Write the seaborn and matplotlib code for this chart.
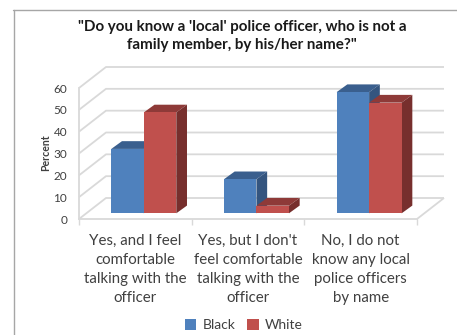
import matplotlib
matplotlib.use("Agg")
import matplotlib.pyplot as plt
from matplotlib.patches import Polygon
from matplotlib.lines import Line2D
import pandas as pd
import seaborn as sns

# Survey responses, in percent
categories = [
    "Yes, and I feel\ncomfortable\ntalking with the\nofficer",
    "Yes, but I don't\nfeel comfortable\ntalking with the\nofficer",
    "No, I do not\nknow any local\npolice officers\nby name",
]
black_values = [29.5, 15.6, 55.5]
white_values = [46.2, 3.5, 50.7]
group_names = ["Black", "White"]
y_ticks = [0, 10, 20, 30, 40, 50, 60]
title_text = "\"Do you know a 'local' police officer, who is not a\nfamily member, by his/her name?\""

W, H = 457, 335
BLUE, RED = "#4F81BD", "#C0504D"
SHADES = {BLUE: ("#3A5F8E", "#34557F"), RED: ("#8E3A38", "#772F2D")}
GRID = "#D9D9D9"
TEXT = "#404040"

sns.set_theme(style="white")
plt.rcParams["font.family"] = ["Lato", "DejaVu Sans"]

fig = plt.figure(figsize=(W / 100, H / 100), dpi=100, facecolor="white")
# front plane of the plot box, in pixels: x 79..417, y 219 (zero) .. 88 (sixty)
ax = fig.add_axes([79 / W, 1 - 219 / H, (417 - 79) / W, (219 - 88) / H])

df = pd.DataFrame({
    "category": categories * 2,
    "group": [group_names[0]] * 3 + [group_names[1]] * 3,
    "percent": black_values + white_values,
})
sns.barplot(
    data=df, x="category", y="percent", hue="group", hue_order=group_names,
    palette=[BLUE, RED], width=0.577, gap=0, saturation=1, ax=ax, legend=False,
    linewidth=0, zorder=5,
)
ax.set_xlim(-0.5, 2.5)
ax.set_ylim(0, 60)
ax.set_xlabel("")

# oblique depth of the floor and of each column, in data units
FLOOR_DX, FLOOR_DY = 27 / 112.7, 21 / (131 / 60)
SHIFT_X, SHIFT_Y = 0.075, 2.6
BAR_DX, BAR_DY = 0.095, 3.55

# back wall and side wall gridlines
line_style = dict(color=GRID, lw=1.3, clip_on=False, zorder=1, solid_capstyle="butt")
for v in y_ticks:
    ax.plot([-0.5, -0.5 + FLOOR_DX, 2.5 + FLOOR_DX],
            [v, v + FLOOR_DY, v + FLOOR_DY], **line_style)
ax.plot([2.5, 2.5 + FLOOR_DX], [0, FLOOR_DY], **line_style)

# extruded columns: every face follows the bar that seaborn drew
bars = [p for p in ax.patches]
for n, bar in enumerate(bars):
    bar.set_x(bar.get_x() + SHIFT_X)
    bar.set_y(SHIFT_Y)
    x0, x1 = bar.get_x(), bar.get_x() + bar.get_width()
    y0, y1 = SHIFT_Y, SHIFT_Y + bar.get_height()
    colour = BLUE if n < 3 else RED
    top, side = SHADES[colour]
    order = 3 + (n >= 3) * 3
    ax.add_patch(Polygon([(x0, y1), (x1, y1), (x1 + BAR_DX, y1 + BAR_DY), (x0 + BAR_DX, y1 + BAR_DY)],
                         fc=top, lw=0, zorder=order, clip_on=False))
    ax.add_patch(Polygon([(x1, y0), (x1 + BAR_DX, y0 + BAR_DY), (x1 + BAR_DX, y1 + BAR_DY), (x1, y1)],
                         fc=side, lw=0, zorder=order + 0.5, clip_on=False))
    bar.set_zorder(order + 1)
    bar.set_clip_on(False)

# axes, ticks and labels
sns.despine(ax=ax, top=True, right=True)
for name in ("left", "bottom"):
    ax.spines[name].set_color(GRID)
    ax.spines[name].set_linewidth(1.3)
ax.set_yticks(y_ticks)
ax.set_xticks([-0.5, 0.5, 1.5, 2.5], labels=[])
ax.tick_params(axis="x", length=4, width=1, color=GRID, bottom=True)
ax.tick_params(axis="y", length=0, pad=8.5, labelsize=8.5, labelcolor=TEXT)
ax.grid(False)
ax.set_ylabel("")
fig.text(46 / W, 1 - 153 / H, "Percent", rotation=90, ha="center", va="center",
         fontsize=7.6, fontweight="bold", color=TEXT)

for i, label in enumerate(categories):
    ax.annotate(label, xy=(i, 0), xycoords=("data", "axes fraction"),
                xytext=(0, -10.5), textcoords="offset points", ha="center", va="top",
                fontsize=10.8, color=TEXT, linespacing=1.46, annotation_clip=False)

fig.text(242 / W, 1 - 36 / H, title_text, ha="center", va="center", fontsize=10.9,
         fontweight="bold", color="#1A1A1A", linespacing=1.36)

# chart frame along the top and left edges
frame = dict(color="#A6A6A6", lw=1, transform=fig.transFigure)
fig.add_artist(Line2D([13 / W, 1], [1 - 9.5 / H, 1 - 9.5 / H], **frame))
fig.add_artist(Line2D([13.5 / W, 13.5 / W], [1 - 9.5 / H, 0], **frame))

handles = [plt.Rectangle((0, 0), 1, 1, fc=c, lw=0) for c in (BLUE, RED)]
fig.legend(handles, group_names, loc="center", bbox_to_anchor=(244 / W, 1 - 325 / H), ncol=2,
           frameon=False, fontsize=10, labelcolor=TEXT, handlelength=0.8, handleheight=0.8,
           handletextpad=0.45, columnspacing=0.85, borderpad=0)

fig.savefig("out.png", dpi=100, facecolor="white")
